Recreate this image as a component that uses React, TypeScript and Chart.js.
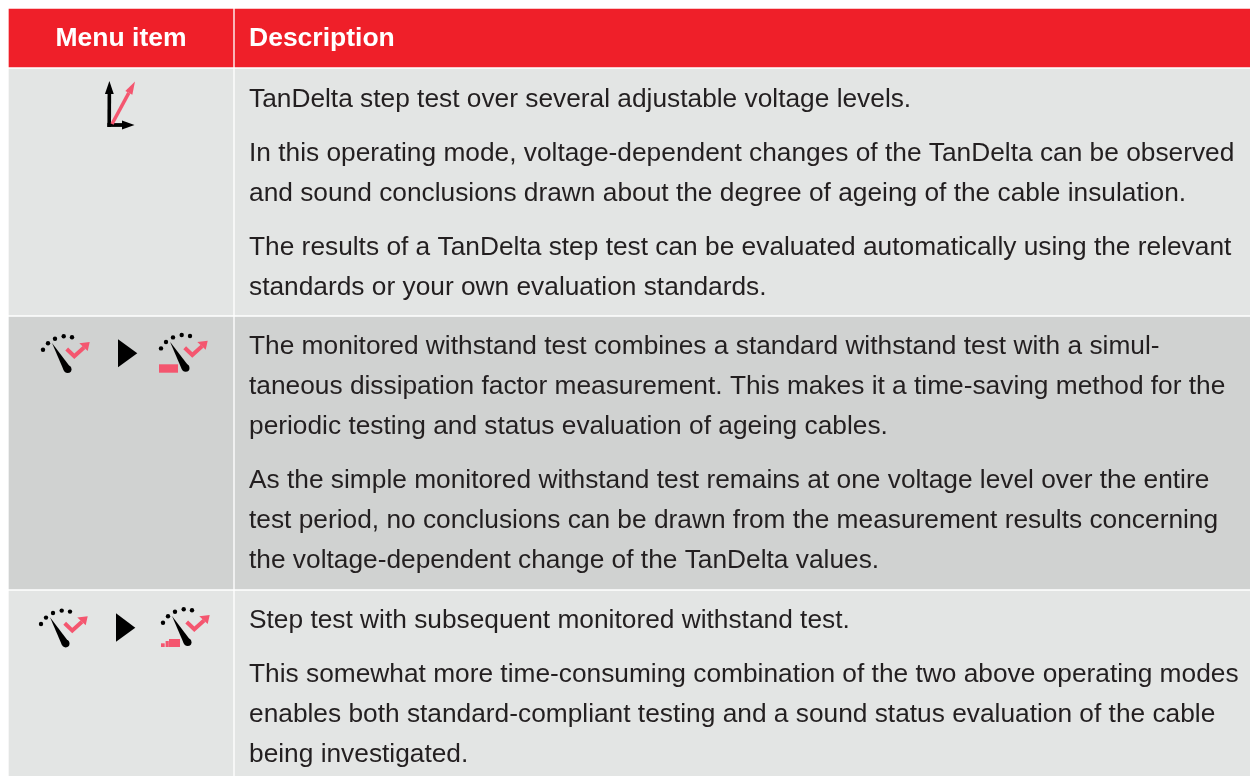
import React, { useEffect, useRef } from "react";
import { Chart, registerables } from "chart.js";

Chart.register(...registerables);

const columns = ["Menu item", "Description"];
const rowEdges: [number, number][] = [[9, 67], [69, 315], [317, 589], [591, 776]];
const rowColours = ["#ef1f29", "#e3e5e4", "#d0d2d1", "#e3e5e4"];
const column1 = [121, 224];
const column2 = [742.5, 1015];

const row1 = [
  ["TanDelta step test over several adjustable voltage levels."],
  ["In this operating mode, voltage-dependent changes of the TanDelta can be observed", "and sound conclusions drawn about the degree of ageing of the cable insulation."],
  ["The results of a TanDelta step test can be evaluated automatically using the relevant", "standards or your own evaluation standards."],
];
const row2 = [
  ["The monitored withstand test combines a standard withstand test with a simul-", "taneous dissipation factor measurement. This makes it a time-saving method for the", "periodic testing and status evaluation of ageing cables."],
  ["As the simple monitored withstand test remains at one voltage level over the entire", "test period, no conclusions can be drawn from the measurement results concerning", "the voltage-dependent change of the TanDelta values."],
];
const row3 = [
  ["Step test with subsequent monitored withstand test."],
  ["This somewhat more time-consuming combination of the two above operating modes", "enables both standard-compliant testing and a sound status evaluation of the cable", "being investigated."],
];

const RED = "#f4566f";
const BODY_FONT = '26.3px "Liberation Sans"';

function arrow(c: CanvasRenderingContext2D, x0: number, y0: number, x1: number, y1: number, w: number, hl: number, hw: number, colour: string) {
  const a = Math.atan2(y1 - y0, x1 - x0);
  const bx = x1 - Math.cos(a) * hl, by = y1 - Math.sin(a) * hl;
  c.strokeStyle = colour; c.lineWidth = w; c.lineCap = "butt";
  c.beginPath(); c.moveTo(x0, y0); c.lineTo(bx, by); c.stroke();
  c.fillStyle = colour; c.beginPath(); c.moveTo(x1, y1);
  c.lineTo(bx - Math.sin(a) * hw, by + Math.cos(a) * hw);
  c.lineTo(bx + Math.sin(a) * hw, by - Math.cos(a) * hw);
  c.closePath(); c.fill();
}

function gauge(c: CanvasRenderingContext2D, dx: number, dy: number) {
  c.save(); c.translate(dx, dy);
  c.fillStyle = "#000";
  for (const [x, y] of [[43, 349.7], [48, 343.3], [55, 338.7], [63.7, 336.3], [72, 337.3]]) {
    c.beginPath(); c.arc(x, y, 2.2, 0, Math.PI * 2); c.fill();
  }
  c.beginPath(); c.moveTo(52, 343); c.lineTo(64, 371); c.lineTo(70.6, 367.4); c.closePath(); c.fill();
  c.beginPath(); c.arc(67.7, 369.3, 3.8, 0, Math.PI * 2); c.fill();
  c.strokeStyle = RED; c.lineWidth = 4; c.lineCap = "butt"; c.lineJoin = "miter";
  c.beginPath(); c.moveTo(66.7, 349); c.lineTo(74.3, 356.3); c.lineTo(84, 347.5); c.stroke();
  c.fillStyle = RED; c.beginPath(); c.moveTo(89.7, 342); c.lineTo(87.7, 351); c.lineTo(79.3, 343.3); c.closePath(); c.fill();
  c.restore();
}

function drawText(c: CanvasRenderingContext2D, paragraphs: string[][], top: number) {
  let y = top;
  c.font = BODY_FONT; c.fillStyle = "#231f20"; c.textAlign = "left"; c.textBaseline = "alphabetic";
  for (const p of paragraphs) {
    for (const line of p) { c.fillText(line, 249, y); y += 40; }
    y += 14;
  }
}

const tablePlugin = {
  id: "tableContent",
  afterDatasetsDraw(chart: Chart) {
    const c = chart.ctx;
    c.save();
    c.fillStyle = "#fff"; c.textBaseline = "alphabetic";
    c.font = 'bold 26.5px "Liberation Sans"';
    c.textAlign = "center"; c.fillText(columns[0], 121, 46);
    c.textAlign = "left"; c.fillText(columns[1], 249, 46);
    drawText(c, row1, 107);
    drawText(c, row2, 354);
    drawText(c, row3, 628);

    arrow(c, 109.2, 127, 109.4, 81, 3.6, 13, 4.4, "#000");
    arrow(c, 107.4, 125, 134.5, 125, 3.8, 12.5, 4.4, "#000");
    arrow(c, 112, 124, 135, 81.5, 3.5, 13, 4, RED);

    gauge(c, 0, 0);
    c.fillStyle = "#000";
    c.beginPath(); c.moveTo(118, 339.3); c.lineTo(137.3, 353.3); c.lineTo(118, 367.3); c.closePath(); c.fill();
    gauge(c, 118, -1.3);
    c.fillStyle = RED; c.fillRect(159, 364.3, 19, 8.4);

    gauge(c, -2, 274.3);
    c.fillStyle = "#000";
    c.beginPath(); c.moveTo(116, 613.3); c.lineTo(135.3, 627.7); c.lineTo(116, 641.7); c.closePath(); c.fill();
    gauge(c, 120, 273);
    c.fillStyle = RED;
    c.fillRect(161, 643.3, 3.7, 3.7); c.fillRect(165.6, 641, 3.2, 6); c.fillRect(169, 639, 11, 8);
    c.restore();
  },
};

export default function App() {
  const ref = useRef<HTMLCanvasElement>(null);
  useEffect(() => {
    document.body.style.margin = "0";
    const chart = new Chart(ref.current!, {
      type: "bar",
      data: {
        datasets: [
          { label: columns[0], data: rowEdges.map((e) => ({ x: column1[0], y: e })), backgroundColor: rowColours, barThickness: column1[1], grouped: false, borderWidth: 0 },
          { label: columns[1], data: rowEdges.map((e) => ({ x: column2[0], y: e })), backgroundColor: rowColours, barThickness: column2[1], grouped: false, borderWidth: 0 },
        ],
      } as any,
      options: {
        animation: false,
        responsive: false,
        layout: { padding: 0 },
        plugins: { legend: { display: false }, tooltip: { enabled: false } },
        scales: {
          x: { type: "linear", min: 0, max: 1250, display: false, offset: false },
          y: { type: "linear", min: 0, max: 776, reverse: true, display: false },
        },
      },
      plugins: [tablePlugin],
    });
    return () => chart.destroy();
  }, []);
  return <canvas ref={ref} width={1250} height={776} style={{ display: "block", width: 1250, height: 776 }} />;
}
